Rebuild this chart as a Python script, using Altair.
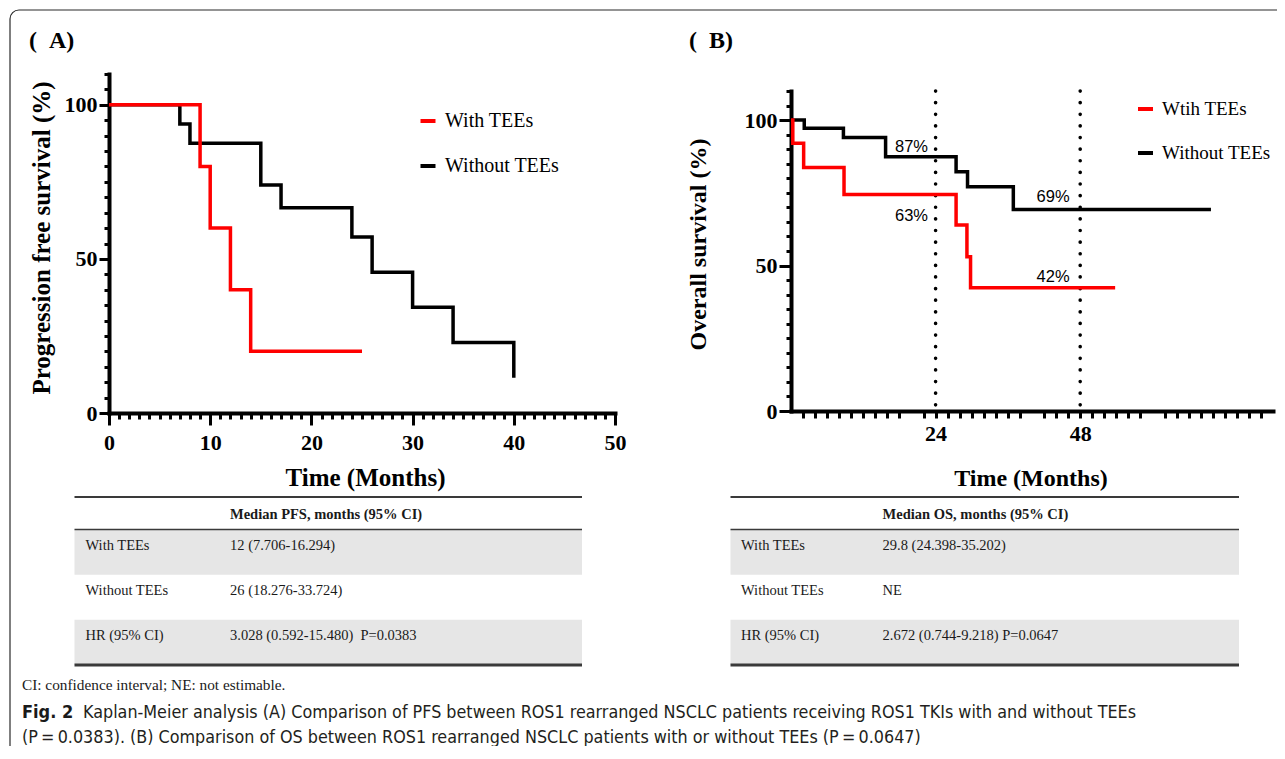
import altair as alt
import pandas as pd

# ---------------- data ----------------
# Panel A: progression-free survival (%)
pfs_with_months = [0, 9, 10, 12, 14, 25]
pfs_with_surv = [100, 80, 60, 40, 20, 20]
pfs_without_months = [0, 7, 8, 15, 17, 24, 26, 30, 34, 40]
pfs_without_surv = [100, 93.8, 87.5, 74.0, 66.6, 57.1, 45.7, 34.3, 22.9, 11.4]
pfs_groups = ["With TEEs", "Without TEEs"]

# Panel B: overall survival (%)
os_with_months = [0, 0.3, 2.1, 8.8, 27.4, 29.2, 29.8, 53.8]
os_with_surv = [100, 92.0, 83.7, 74.4, 63.9, 53.0, 42.4, 42.4]
os_without_months = [0, 2.2, 8.7, 15.7, 27.4, 29.3, 36.9, 69.7]
os_without_surv = [100, 97.2, 94.0, 87.4, 82.2, 77.1, 69.3, 69.3]
os_groups = ["Wtih TEEs", "Without TEEs"]

landmark_months = [24, 48]
landmark_top = [110, 110]
landmark_bottom = [0, 0]
ann_months = [20.0, 20.0, 43.5, 43.5]
ann_surv = [90.6, 67.0, 73.4, 45.9]
ann_labels = ["87%", "63%", "69%", "42%"]

# tick values
pfs_x_major = [0, 10, 20, 30, 40, 50]
pfs_x_minor = list(range(0, 51))
surv_y_major = [0, 50, 100]
surv_y_minor = list(range(0, 111, 5))
os_x_ticks = [m for m in range(2, 80, 2) if m % 20 != 0]

# tables
row_ids = ["r1", "r2", "r3"]
row_labels = ["With TEEs", "Without TEEs", "HR (95% CI)"]
pfs_values = ["12 (7.706-16.294)", "26 (18.276-33.724)", "3.028 (0.592-15.480)\u00a0 P=0.0383"]
os_values = ["29.8 (24.398-35.202)", "NE", "2.672 (0.744-9.218) P=0.0647"]
pfs_header = "Median PFS, months (95% CI)"
os_header = "Median OS, months (95% CI)"
shaded_rows = ["r1", "r3"]

panel_labels = ["(\u00a0\u00a0A)", "(\u00a0\u00a0B)"]
footnote = "CI: confidence interval; NE: not estimable."
caption_fig = "Fig. 2"
caption_line1 = ("Kaplan-Meier analysis (A) Comparison of PFS between ROS1 rearranged NSCLC "
                 "patients receiving ROS1 TKIs with and without TEEs")
caption_line2 = ("(P\u2009=\u20090.0383). (B) Comparison of OS between ROS1 rearranged NSCLC "
                 "patients with or without TEEs (P\u2009=\u20090.0647)")

# ---------------- styling ----------------
SERIF = "Liberation Serif"
SANS = "Liberation Sans"
NARROW = "Liberation Sans Narrow, DejaVu Sans Condensed, Liberation Sans, sans-serif"
W, H = 1267, 736

AX = dict(grid=False, domainColor="black", domainWidth=4, domainCap="square",
          tickColor="black", tickWidth=3, labelFont=SERIF, labelFontWeight="bold",
          labelFontSize=22, labelColor="black", labelFlush=False, labelOverlap=False,
          titleFont=SERIF, titleFontWeight="bold", titleColor="black",
          titleBaseline="middle", titleAlign="center")
MINOR = dict(grid=False, domain=False, labels=False, title=None,
             tickColor="black", tickWidth=3)


def legend(x, y, size, pad):
    return alt.Legend(orient="none", legendX=x, legendY=y, title=None,
                      symbolType="stroke", symbolSize=225, symbolStrokeWidth=4,
                      labelFont=SERIF, labelFontSize=size, labelColor="black",
                      rowPadding=pad, labelOffset=7, padding=0)


def km_line(df, xs, ys, cs, leg, xaxis=None, yaxis=None):
    return alt.Chart(df).mark_line(interpolate="step-after", strokeWidth=3.5,
                                   strokeJoin="miter").encode(
        x=alt.X("t:Q", scale=xs, axis=xaxis),
        y=alt.Y("s:Q", scale=ys, axis=yaxis),
        color=alt.Color("g:N", scale=cs, legend=leg),
    )


# ---------------- panel A ----------------
xA = alt.Scale(domain=[0, 50], range=[99, 605], nice=False, zero=False)
yA = alt.Scale(domain=[0, 110], range=[403, 64], nice=False, zero=False)
cA = alt.Scale(domain=pfs_groups, range=["#ff0000", "#000000"])
legA = legend(408, 101, 20, 25)

dfA_with = pd.DataFrame({"t": pfs_with_months, "s": pfs_with_surv, "g": pfs_groups[0]})
dfA_without = pd.DataFrame({"t": pfs_without_months, "s": pfs_without_surv, "g": pfs_groups[1]})

axA_x = alt.Axis(orient="bottom", offset=403 - H, values=pfs_x_major, tickSize=12,
                 labelPadding=7, title="Time (Months)", titleFontSize=25,
                 titleX=355, titleY=64, **AX)
axA_y = alt.Axis(orient="left", offset=-99, values=surv_y_major, tickSize=10,
                 labelPadding=2, title="Progression free survival (%)", titleFontSize=25,
                 titleAngle=270, titleX=-68, titleY=227.5, **AX)
axA_xm = alt.Axis(orient="bottom", offset=403 - H, values=pfs_x_minor, tickSize=6, **MINOR)
axA_ym = alt.Axis(orient="left", offset=-99, values=surv_y_minor, tickSize=5, **MINOR)

panelA = alt.layer(
    km_line(dfA_without, xA, yA, cA, legA),
    km_line(dfA_with, xA, yA, cA, legA, axA_x, axA_y),
    alt.Chart(dfA_without).mark_line(opacity=0).encode(
        x=alt.X("t:Q", scale=xA, axis=axA_xm), y=alt.Y("s:Q", scale=yA, axis=axA_ym)),
).resolve_axis(x="independent", y="independent")

# ---------------- panel B ----------------
xB = alt.Scale(domain=[0, 80], range=[781, 1263], nice=False, zero=False)
yB = alt.Scale(domain=[0, 110], range=[401, 81], nice=False, zero=False)
cB = alt.Scale(domain=os_groups, range=["#ff0000", "#000000"])
legB = legend(1126, 89.5, 19, 24)

dfB_with = pd.DataFrame({"t": os_with_months, "s": os_with_surv, "g": os_groups[0]})
dfB_without = pd.DataFrame({"t": os_without_months, "s": os_without_surv, "g": os_groups[1]})

axB_x = alt.Axis(orient="bottom", offset=401 - H, values=os_x_ticks, tickSize=7,
                 labelPadding=5, labelExpr="datum.value == 24 || datum.value == 48 ? datum.label : ''",
                 title="Time (Months)", titleFontSize=24, titleX=1020.5, titleY=67, **AX)
axB_y = alt.Axis(orient="left", offset=-781, values=surv_y_major, tickSize=12,
                 labelPadding=2, title="Overall survival (%)", titleFontSize=24,
                 titleAngle=270, titleX=-93, titleY=234, **AX)
axB_ym = alt.Axis(orient="left", offset=-781, values=surv_y_minor, tickSize=5, **MINOR)

df_land = pd.DataFrame({"t": landmark_months, "hi": landmark_top, "lo": landmark_bottom})
df_ann = pd.DataFrame({"t": ann_months, "s": ann_surv, "label": ann_labels})

panelB = alt.layer(
    alt.Chart(df_land).mark_rule(strokeWidth=3.6, strokeDash=[0.1, 11.52], strokeCap="round",
                                 color="black").encode(
        x=alt.X("t:Q", scale=xB, axis=None),
        y=alt.Y("hi:Q", scale=yB, axis=None), y2="lo:Q"),
    km_line(dfB_without, xB, yB, cB, legB),
    km_line(dfB_with, xB, yB, cB, legB, axB_x, axB_y),
    alt.Chart(dfB_without).mark_line(opacity=0).encode(
        x=alt.X("t:Q", scale=xB, axis=None), y=alt.Y("s:Q", scale=yB, axis=axB_ym)),
    alt.Chart(df_ann).mark_text(font=SANS, fontSize=16.5, color="black", baseline="middle").encode(
        x=alt.X("t:Q", scale=xB, axis=None), y=alt.Y("s:Q", scale=yB, axis=None), text="label:N"),
).resolve_axis(x="independent", y="independent")


# ---------------- tables ----------------
def table(values, header, x_left, x_right, col_x):
    ytab = alt.Scale(type="band", domain=row_ids, range=[519.5, 655], paddingInner=0, paddingOuter=0)
    xcol = alt.Scale(type="point", domain=["label", "value"], range=col_x, padding=0)
    cells = pd.DataFrame({"row": row_ids * 2, "col": ["label"] * 3 + ["value"] * 3,
                          "text": row_labels + values})
    one = pd.DataFrame({"k": [0]})
    shade = alt.Chart(pd.DataFrame({"row": shaded_rows})).mark_rect(color="#e6e6e6").encode(
        y=alt.Y("row:N", scale=ytab, axis=None), x=alt.value(x_left), x2=alt.value(x_right))
    text = alt.Chart(cells).mark_text(align="left", baseline="middle", font=SERIF, fontSize=14.5,
                                      color="#1a1a1a", dy=-6.5).encode(
        x=alt.X("col:N", scale=xcol, axis=None), y=alt.Y("row:N", scale=ytab, axis=None),
        text="text:N")
    head = alt.Chart(pd.DataFrame({"col": ["value"], "text": [header]})).mark_text(
        align="left", baseline="middle", font=SERIF, fontSize=14.5, fontWeight="bold",
        color="#1a1a1a").encode(
        x=alt.X("col:N", scale=xcol, axis=None), y=alt.value(505), text="text:N")
    rules = [
        alt.Chart(one).mark_rule(color="#3a3a3a", strokeWidth=w).encode(
            x=alt.value(x_left), x2=alt.value(x_right), y=alt.value(yv))
        for yv, w in [(487, 2), (519.5, 1.6), (655, 3)]
    ]
    return alt.layer(shade, text, head, *rules)


tableA = table(pfs_values, pfs_header, 64.5, 572, [75.5, 220])
tableB = table(os_values, os_header, 720.5, 1229, [731, 872.6])

# ---------------- frame, labels, caption ----------------
one = pd.DataFrame({"k": [0]})
frame = alt.Chart(one).mark_rect(fill="transparent", stroke="#2b2b2b", strokeWidth=1.2,
                                 cornerRadius=9).encode(
    x=alt.value(0), x2=alt.value(1300), y=alt.value(0), y2=alt.value(770))


def label(txt, x, y, **kw):
    return alt.Chart(one).mark_text(text=txt, align="left", baseline="middle", **kw).encode(
        x=alt.value(x), y=alt.value(y))


texts = [
    label(panel_labels[0], 19, 31, font=SERIF, fontSize=24, fontWeight="bold", color="black"),
    label(panel_labels[1], 679, 31, font=SERIF, fontSize=24, fontWeight="bold", color="black"),
    label(footnote, 12, 675, font=SERIF, fontSize=15.3, color="#1a1a1a"),
    label(caption_fig, 12, 703, font=NARROW, fontSize=18, fontWeight="bold", color="#1a1a1a"),
    label(caption_line1, 73, 703, font=NARROW, fontSize=17.8, color="#231f20"),
    label(caption_line2, 12, 727.5, font=NARROW, fontSize=17.8, color="#231f20"),
]

chart = alt.layer(frame, tableA, tableB, panelA, panelB, *texts).resolve_scale(
    x="independent", y="independent", color="independent"
).properties(
    width=W, height=H,
    autosize=alt.AutoSizeParams(type="none"),
    padding={"left": 2, "top": 2, "right": 0, "bottom": 0},
).configure_view(stroke=None)

chart.save("out.html", embed_options={"renderer": "svg", "actions": False})
